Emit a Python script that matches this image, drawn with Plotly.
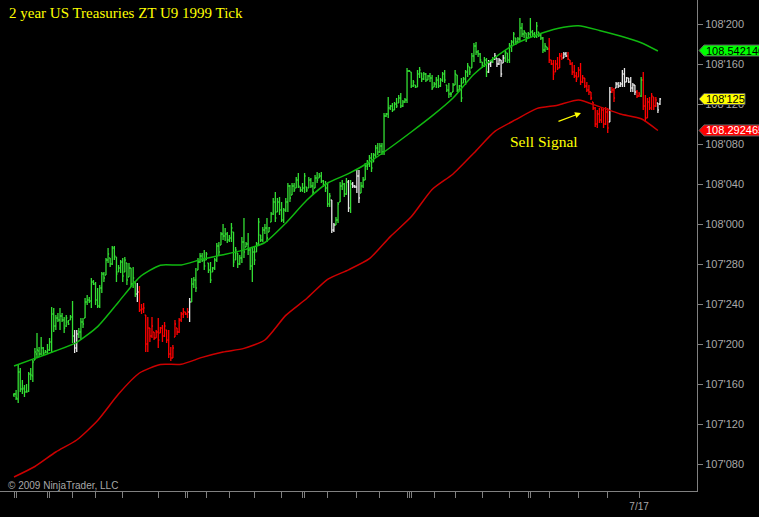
import plotly.graph_objects as go

# prices kept in 32nds above 107'000 (bond quote), e.g. 44.5 -> 108'125
highs = [
    15.1, 15.4, 17.9, 17.6, 16.4, 15.9, 16.0, 17.2, 17.6, 18.4,
    19.6, 21.1, 19.7, 20.7, 19.7, 19.4, 20.0, 20.6, 23.7, 23.6,
    22.9, 23.1, 23.6, 23.1, 22.7, 22.9, 22.4, 22.9, 24.3, 21.4,
    21.4, 21.6, 22.6, 22.6, 24.6, 24.9, 24.7, 26.6, 26.4, 26.2,
    25.6, 25.9, 27.2, 27.2, 28.6, 29.6, 28.6, 29.8, 29.8, 28.7,
    27.9, 28.4, 28.6, 28.7, 28.1, 28.1, 27.6, 27.7, 26.2, 26.1,
    25.8, 24.0, 24.1, 22.9, 22.7, 21.6, 22.7, 21.2, 21.4, 22.6,
    21.7, 21.9, 22.2, 21.4, 21.4, 19.7, 19.9, 22.4, 21.6, 22.6,
    23.2, 23.6, 23.2, 23.6, 24.6, 26.6, 26.7, 27.6, 28.6, 29.1,
    29.1, 29.4, 29.2, 28.1, 28.2, 27.7, 28.6, 30.1, 30.2, 31.2,
    32.0, 31.6, 31.2, 30.9, 32.1, 31.2, 29.7, 29.1, 28.9, 30.7,
    32.6, 30.2, 31.1, 29.6, 29.7, 29.7, 30.2, 32.6, 30.9, 31.7,
    32.0, 32.6, 31.7, 33.2, 34.6, 35.2, 34.6, 34.7, 34.2, 33.6,
    34.6, 36.1, 35.9, 36.1, 36.1, 36.7, 37.1, 35.7, 36.1, 37.1,
    35.7, 36.7, 36.6, 36.2, 36.9, 37.2, 37.1, 37.2, 36.4, 36.3,
    36.1, 35.1, 34.4, 32.1, 32.7, 34.2, 36.2, 36.4, 36.1, 36.6,
    36.4, 36.4, 36.2, 35.9, 37.4, 37.4, 36.2, 36.7, 38.1, 38.4,
    38.9, 39.1, 39.1, 39.9, 40.1, 40.1, 40.1, 43.1, 43.1, 44.7,
    43.9, 44.1, 44.2, 44.6, 44.9, 45.1, 44.4, 44.6, 47.6, 47.4,
    47.2, 46.4, 45.9, 47.4, 47.7, 47.1, 47.2, 47.1, 46.9, 47.1,
    46.9, 46.2, 46.7, 46.9, 46.6, 47.2, 47.4, 45.9, 46.1, 45.2,
    46.1, 47.4, 46.9, 45.9, 46.6, 46.7, 47.4, 48.1, 47.7, 49.1,
    50.1, 50.2, 49.4, 49.1, 48.2, 48.7, 48.6, 48.4, 48.4, 48.7,
    49.1, 48.6, 48.6, 48.4, 48.9, 49.4, 49.1, 50.1, 50.4, 51.2,
    50.6, 50.7, 52.6, 52.1, 51.4, 51.1, 51.2, 52.6, 51.4, 51.2,
    52.2, 51.2, 51.1, 50.7, 50.1, 49.7, 50.6, 48.4, 48.4, 48.4,
    48.7, 49.1, 49.1, 49.2, 49.2, 49.2, 48.4, 48.2, 47.9, 47.2,
    47.7, 48.1, 46.9, 46.6, 46.2, 45.9, 45.2, 44.2, 43.7, 43.4,
    43.6, 43.7, 43.6, 43.7, 43.6, 45.7, 45.7, 45.6, 46.2, 46.2,
    46.2, 47.4, 47.6, 46.7, 46.6, 46.7, 46.1, 45.9, 45.4, 45.2,
    46.7, 47.2, 44.9, 44.6, 44.7, 45.1, 44.7, 44.7, 44.1, 44.6,
]
lows = [
    14.7, 14.4, 14.1, 15.2, 15.0, 14.7, 15.2, 15.2, 16.4, 16.2,
    18.4, 18.6, 18.7, 18.9, 18.9, 19.1, 19.0, 19.3, 19.1, 21.2,
    21.4, 22.2, 21.4, 22.2, 21.1, 21.7, 21.9, 22.4, 20.1, 19.1,
    19.2, 20.6, 20.4, 21.6, 22.6, 23.9, 24.1, 23.6, 25.9, 23.9,
    23.6, 23.6, 25.1, 26.2, 26.9, 28.1, 27.7, 27.9, 28.4, 26.2,
    27.2, 27.1, 26.2, 27.2, 25.9, 26.7, 25.7, 25.6, 24.7, 24.2,
    23.2, 23.0, 23.1, 19.2, 19.2, 20.2, 20.6, 20.4, 20.6, 19.6,
    21.1, 20.2, 20.7, 20.1, 18.6, 18.3, 18.6, 20.7, 20.9, 21.1,
    22.2, 22.6, 22.9, 22.6, 22.2, 24.2, 25.6, 25.2, 27.4, 28.1,
    28.2, 27.4, 28.4, 27.1, 26.1, 27.2, 27.4, 28.2, 28.9, 29.9,
    30.4, 30.3, 30.1, 30.2, 30.2, 27.7, 28.4, 27.6, 27.9, 28.1,
    28.6, 29.7, 28.9, 27.4, 26.2, 27.9, 29.2, 29.9, 30.2, 30.2,
    31.0, 30.2, 31.2, 32.2, 32.9, 32.2, 33.2, 32.9, 32.2, 32.1,
    33.2, 33.2, 34.2, 34.9, 35.2, 35.6, 35.6, 35.2, 35.2, 35.1,
    35.2, 35.6, 35.6, 34.9, 35.6, 36.1, 36.6, 36.1, 35.7, 35.2,
    33.7, 33.7, 31.1, 31.2, 31.9, 32.1, 34.2, 35.4, 34.7, 34.9,
    33.2, 33.1, 35.6, 35.6, 35.1, 34.1, 35.1, 35.6, 36.4, 37.4,
    37.7, 37.2, 38.2, 38.6, 38.9, 39.1, 38.9, 38.9, 42.7, 42.6,
    43.4, 43.2, 43.4, 43.6, 44.1, 43.6, 43.7, 44.1, 44.1, 47.2,
    45.6, 45.7, 45.6, 45.7, 46.6, 46.2, 46.4, 46.2, 46.4, 46.2,
    45.4, 45.7, 45.6, 45.6, 45.7, 46.2, 46.1, 45.2, 44.6, 44.7,
    45.2, 45.9, 45.2, 45.4, 44.2, 46.1, 45.9, 46.7, 46.9, 47.6,
    48.2, 48.9, 48.7, 48.1, 47.6, 47.7, 46.7, 47.1, 47.7, 48.1,
    48.4, 47.7, 47.9, 46.7, 48.1, 48.2, 48.1, 48.1, 49.2, 49.9,
    49.9, 50.1, 50.2, 50.7, 50.6, 50.2, 50.6, 50.6, 50.7, 50.6,
    50.6, 50.7, 50.4, 49.1, 49.2, 49.4, 48.1, 47.9, 46.4, 47.2,
    47.4, 47.6, 48.4, 48.6, 48.7, 48.4, 47.9, 46.9, 46.6, 46.2,
    46.7, 45.9, 46.1, 45.6, 45.2, 44.9, 44.4, 43.4, 41.7, 41.6,
    42.1, 42.1, 41.6, 41.9, 41.1, 42.2, 45.1, 44.2, 45.6, 45.6,
    45.7, 45.7, 45.7, 46.2, 46.1, 45.2, 45.2, 44.9, 44.6, 44.7,
    44.7, 43.4, 42.2, 42.6, 43.4, 43.4, 43.4, 43.7, 43.1, 43.9,
]
opens = [
    14.9, 15.0, 14.5, 17.2, 15.5, 15.5, 15.2, 15.3, 17.0, 16.8,
    18.4, 19.0, 19.3, 19.0, 19.6, 19.1, 19.2, 19.4, 20.2, 23.0,
    21.8, 22.6, 22.4, 22.8, 22.4, 21.8, 22.2, 22.4, 22.7, 20.8,
    19.6, 21.0, 21.2, 22.2, 22.6, 24.2, 24.4, 24.3, 26.2, 26.0,
    24.4, 23.8, 25.6, 27.0, 26.9, 28.4, 28.6, 28.0, 29.6, 28.7,
    27.2, 27.6, 28.2, 27.2, 28.1, 26.7, 27.6, 26.0, 26.2, 25.0,
    25.2, 23.4, 23.5, 22.9, 20.0, 21.6, 20.8, 21.2, 20.6, 21.2,
    21.1, 21.6, 20.8, 21.4, 20.4, 19.0, 18.6, 20.7, 21.6, 21.2,
    22.4, 23.0, 23.2, 23.0, 23.2, 24.2, 26.0, 26.4, 27.4, 28.2,
    28.8, 28.4, 28.4, 28.1, 27.4, 27.2, 27.6, 28.4, 29.8, 29.9,
    31.0, 30.8, 31.0, 30.4, 30.6, 31.2, 28.4, 29.1, 28.0, 28.6,
    30.2, 29.7, 30.0, 29.4, 27.8, 29.2, 29.2, 30.0, 30.9, 30.4,
    31.4, 31.6, 31.2, 32.2, 33.0, 34.2, 33.2, 34.2, 33.4, 32.4,
    33.4, 34.2, 35.8, 34.9, 35.8, 35.6, 36.4, 35.7, 35.4, 35.6,
    35.7, 35.6, 36.4, 35.8, 35.6, 36.6, 36.6, 36.8, 36.3, 35.9,
    35.6, 34.0, 34.4, 31.4, 31.9, 32.4, 34.2, 35.8, 36.0, 35.0,
    36.2, 33.6, 36.0, 35.8, 35.7, 36.8, 35.1, 35.8, 36.4, 37.8,
    38.0, 38.6, 38.2, 38.9, 39.6, 39.2, 39.8, 39.2, 42.8, 43.0,
    43.6, 43.8, 43.4, 44.0, 44.1, 44.6, 43.8, 44.2, 44.4, 47.3,
    47.2, 45.8, 45.9, 45.7, 47.0, 47.1, 46.5, 47.0, 46.4, 46.8,
    46.6, 45.7, 46.0, 46.4, 45.8, 46.4, 47.0, 45.9, 45.4, 45.0,
    45.2, 45.9, 46.9, 45.4, 45.8, 46.1, 46.5, 47.2, 47.7, 47.6,
    48.8, 49.8, 49.2, 49.0, 48.2, 47.8, 48.4, 47.2, 48.0, 48.2,
    48.5, 48.6, 48.0, 48.4, 48.1, 48.6, 49.1, 48.4, 49.8, 50.2,
    50.6, 50.2, 50.5, 51.6, 51.0, 51.1, 50.6, 51.0, 51.2, 51.0,
    50.8, 51.2, 50.9, 50.6, 49.4, 49.7, 49.5, 48.4, 48.0, 47.2,
    48.0, 47.6, 48.8, 48.6, 49.0, 48.8, 48.4, 48.0, 47.2, 46.8,
    46.7, 47.4, 46.2, 46.6, 45.8, 45.4, 45.2, 44.2, 43.6, 42.0,
    43.0, 42.4, 43.4, 42.0, 43.2, 42.2, 45.2, 45.4, 45.6, 46.0,
    45.8, 46.0, 47.0, 46.2, 46.6, 46.2, 45.6, 45.9, 45.2, 44.8,
    44.8, 46.4, 43.8, 42.6, 44.2, 43.6, 44.7, 43.8, 44.1, 44.0,
]
closes = [
    15.0, 14.6, 17.2, 15.5, 15.6, 15.2, 15.2, 17.0, 16.9, 18.2,
    19.2, 19.4, 19.0, 19.6, 19.0, 19.2, 19.4, 20.2, 23.0, 21.8,
    22.6, 22.4, 22.8, 22.4, 21.6, 22.6, 22.0, 22.7, 20.8, 19.6,
    21.0, 21.2, 22.2, 22.0, 24.2, 24.4, 24.3, 26.2, 26.0, 24.4,
    23.8, 25.6, 27.0, 26.6, 28.4, 29.0, 28.0, 29.6, 28.8, 27.0,
    27.6, 28.2, 26.8, 28.4, 26.4, 27.6, 26.0, 26.6, 25.0, 25.2,
    23.4, 23.5, 23.6, 20.0, 21.6, 20.8, 21.8, 20.6, 21.2, 20.4,
    21.6, 20.8, 21.8, 20.4, 19.0, 18.6, 19.6, 22.0, 21.2, 22.4,
    23.0, 23.2, 23.0, 23.2, 24.2, 26.0, 26.4, 25.6, 28.2, 28.8,
    28.4, 27.8, 29.0, 27.4, 26.4, 27.6, 28.4, 29.8, 29.2, 31.0,
    30.8, 31.0, 30.4, 30.6, 31.6, 28.2, 29.4, 28.0, 28.6, 30.2,
    29.2, 30.0, 29.4, 27.8, 29.2, 28.4, 30.0, 32.2, 30.4, 31.4,
    31.6, 30.6, 31.6, 33.0, 34.2, 32.6, 34.2, 33.4, 32.4, 33.4,
    34.2, 35.8, 34.6, 35.8, 35.4, 36.4, 35.8, 35.4, 35.6, 36.8,
    35.4, 36.4, 35.8, 35.2, 36.6, 36.4, 36.8, 36.3, 35.9, 35.6,
    34.0, 34.8, 31.4, 31.9, 32.4, 34.0, 35.8, 36.0, 35.0, 36.2,
    33.6, 36.0, 35.8, 35.7, 36.8, 34.6, 35.8, 36.4, 37.8, 38.0,
    38.6, 37.6, 38.9, 39.6, 39.2, 39.8, 39.2, 42.8, 43.0, 43.6,
    43.8, 43.4, 44.0, 43.8, 44.6, 43.8, 44.2, 44.4, 47.3, 47.3,
    45.8, 46.2, 45.7, 47.0, 47.4, 46.5, 47.0, 46.4, 46.8, 46.6,
    45.6, 46.0, 46.4, 45.8, 46.4, 47.0, 46.4, 45.4, 45.0, 45.0,
    45.9, 47.0, 45.4, 45.8, 44.6, 46.5, 47.2, 47.8, 47.2, 48.8,
    49.8, 49.2, 49.0, 48.4, 47.8, 48.4, 47.2, 48.0, 48.2, 48.5,
    48.8, 48.0, 48.4, 47.0, 48.6, 49.2, 48.4, 49.8, 50.2, 51.0,
    50.2, 50.5, 51.6, 51.0, 51.2, 50.6, 51.0, 51.2, 51.0, 50.8,
    51.8, 50.9, 50.6, 49.4, 49.8, 49.5, 48.4, 48.0, 47.0, 48.0,
    47.6, 48.8, 48.6, 49.0, 48.8, 48.5, 48.0, 47.2, 46.8, 46.5,
    47.4, 46.2, 46.6, 45.8, 45.4, 45.2, 44.6, 43.6, 42.0, 43.0,
    42.4, 43.4, 42.0, 43.2, 41.6, 45.2, 45.4, 44.6, 46.0, 45.8,
    46.0, 47.0, 46.2, 46.6, 46.2, 45.6, 45.9, 45.2, 44.8, 45.0,
    46.4, 43.8, 42.6, 44.2, 43.6, 44.8, 43.8, 44.4, 43.4, 44.5,
]
# indicator colour of each bar, run-length (state, bars)
state_runs = [
    ("G", 29), ("W", 2), ("G", 28), ("W", 1), ("R", 24), ("W", 1), ("G", 67),
    ("W", 2), ("G", 6), ("W", 1), ("G", 1), ("W", 4), ("G", 61), ("W", 2),
    ("G", 1), ("W", 5), ("G", 21), ("R", 7), ("W", 2), ("R", 20), ("W", 1),
    ("R", 2), ("W", 10), ("R", 2), ("G", 1), ("R", 7), ("W", 2),
]

# moving averages, read every 10 bars
ma_bars = [0, 10, 20, 30, 40, 50, 60, 70, 80, 90, 100, 110, 120, 130, 140, 150,
           160, 170, 180, 190, 200, 210, 220, 230, 240, 250, 260, 270, 280, 290,
           300, 308]
ma_fast = [17.8, 18.56, 19.32, 20.17, 21.74, 24.2, 26.67, 27.88, 27.9, 28.48,
           28.92, 29.41, 30.15, 32.08, 34.37, 36.1, 37.03, 38.2, 39.65, 41.2,
           42.81, 44.6, 46.98, 48.64, 50.02, 50.9, 51.55, 51.82, 51.36, 50.8,
           50.13, 49.3]
ma_slow = [6.7, 7.75, 9.2, 10.4, 12.35, 15.0, 17.1, 17.95, 17.97, 18.66, 19.2,
           19.56, 20.4, 22.86, 24.55, 26.47, 27.42, 28.53, 30.74, 32.72, 35.45,
           37.0, 39.1, 41.26, 42.43, 43.54, 43.88, 44.4, 43.74, 43.0, 42.52, 41.35]

session_ticks = [0, 1, 16, 17, 28, 39, 52, 69, 82, 83, 92, 103, 115, 128, 138, 139,
                 150, 164, 175, 188, 189, 190, 201, 211, 224, 237, 246, 247, 256,
                 270, 284, 299]
session_labels = {299: "7/17"}

y_ticks_32 = list(range(8, 53, 4))

BAR_COLORS = {"G": "#33DD33", "R": "#FF0000", "W": "#E8E8E8"}
GRAY = "#808080"
TXT_GRAY = "#A8A8A8"


def price(v32):
    return 107 + v32 / 32


states = [s for s, n in state_runs for _ in range(n)]
idx = list(range(len(highs)))

fig = go.Figure()
for st, col in BAR_COLORS.items():
    sel = [i for i in idx if states[i] == st]
    fig.add_trace(go.Ohlc(
        x=sel,
        open=[price(opens[i]) for i in sel],
        high=[price(highs[i]) for i in sel],
        low=[price(lows[i]) for i in sel],
        close=[price(closes[i]) for i in sel],
        increasing=dict(line=dict(color=col, width=1.3)),
        decreasing=dict(line=dict(color=col, width=1.3)),
        tickwidth=0.5, hoverinfo="skip",
    ))

fig.add_trace(go.Scatter(x=ma_bars, y=[price(v) for v in ma_fast], mode="lines",
                         line=dict(color="#10B810", width=1.5, shape="spline", smoothing=0.6),
                         hoverinfo="skip"))
fig.add_trace(go.Scatter(x=ma_bars, y=[price(v) for v in ma_slow], mode="lines",
                         line=dict(color="#CC0000", width=1.5, shape="spline", smoothing=0.6),
                         hoverinfo="skip"))

# price tags on the right edge
tags = [(108.542140, "108.542140", "#00FF00", "black", 80),
        (price(closes[-1]), "108'125", "#FFFF00", "black", 48),
        (108.292465, "108.292465", "#FF0000", "white", 80)]
for val, txt, bg, fg, w in tags:
    fig.add_shape(type="path", xref="paper", yref="y", xsizemode="pixel", ysizemode="pixel",
                  xanchor=1, yanchor=val,
                  path=f"M2,0 L7,5.5 L{w},5.5 L{w},-5.5 L7,-5.5 Z",
                  fillcolor=bg, line=dict(color="#606060", width=1), layer="above")
    fig.add_annotation(x=1, xref="paper", y=val, yref="y", text=txt, showarrow=False,
                       xanchor="left", yanchor="middle", xshift=7,
                       font=dict(family="Arial, Liberation Sans", size=11, color=fg))

fig.add_annotation(x=0.010, xref="paper", y=1, yref="paper", yshift=-3,
                   text="2 year US Treasuries ZT U9 1999 Tick", showarrow=False,
                   xanchor="left", yanchor="top",
                   font=dict(family="Liberation Serif, Times New Roman, serif", size=15, color="#FFFF00"))
fig.add_annotation(x=253.3, y=108.2578, text="Sell Signal", showarrow=False,
                   font=dict(family="Liberation Serif, Times New Roman, serif", size=15.5, color="#FFFF00"))
fig.add_annotation(x=271.2, y=108.3469, text="", showarrow=True, ax=-24, ay=9,
                   arrowhead=2, arrowsize=1, arrowwidth=1.2, arrowcolor="#FFFF00")
fig.add_annotation(x=0.008, xref="paper", y=0.012, yref="paper", text="© 2009 NinjaTrader, LLC",
                   showarrow=False, xanchor="left", yanchor="middle",
                   font=dict(family="Arial, Liberation Sans", size=10, color=TXT_GRAY))

fig.update_layout(
    template="none",
    width=759, height=517,
    margin=dict(l=0, r=62, t=0, b=26),
    paper_bgcolor="black", plot_bgcolor="black",
    showlegend=False, hovermode=False,
    xaxis=dict(range=[-6.7, 326.7], rangeslider=dict(visible=False), automargin=False,
               showgrid=False, zeroline=False, showline=True, linecolor=GRAY, linewidth=1,
               tickmode="array", tickvals=session_ticks,
               ticktext=[session_labels.get(t, "") for t in session_ticks],
               ticks="outside", ticklen=6, tickcolor=GRAY, tickwidth=1,
               tickfont=dict(family="Arial, Liberation Sans", size=10, color=TXT_GRAY)),
    yaxis=dict(side="right", range=[price(5.3), price(54.4)], automargin=False,
               showgrid=False, zeroline=False, showline=True, linecolor=GRAY, linewidth=1,
               tickmode="array", tickvals=[price(k) for k in y_ticks_32],
               ticktext=[f"{107 + k // 32}'{k % 32:02d}0" for k in y_ticks_32],
               ticks="outside", ticklen=5, tickcolor=GRAY, tickwidth=1,
               tickfont=dict(family="Arial, Liberation Sans", size=11, color=TXT_GRAY)),
)

# the page body has a default margin; drop it so the chart fills the window
fig.write_html("out.html", config={"displayModeBar": False},
               post_script="document.body.style.margin='0';document.body.style.background='black';")
